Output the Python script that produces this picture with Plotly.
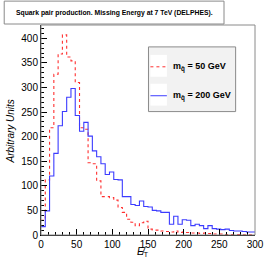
import numpy as np
import plotly.graph_objects as go

# 6 GeV bins from 0 to 300
bin_width = 6
bin_lo = np.arange(0, 300, bin_width)

m50 = [30, 112, 218, 327, 368, 407, 362, 354, 310, 218,
       215, 147, 145, 110, 78, 78, 76, 71, 56, 46,
       32, 26, 19, 25, 28, 12, 10, 10, 8, 7,
       6, 8, 5, 6, 5, 4, 4, 3, 4, 3,
       2, 2, 2, 1, 1, 1, 1, 0.5, 0.5, 0.5]
m200 = [17, 49, 120, 166, 222, 251, 280, 298, 243, 211,
        229, 201, 171, 159, 145, 123, 128, 113, 112, 78,
        78, 62, 60, 69, 58, 57, 50, 49, 46, 46,
        22, 38, 22, 31, 30, 19, 22, 19, 13, 19,
        13, 12, 11, 12, 9, 8, 8, 7, 6, 6]

title_text = "Squark pair production. Missing Energy at 7 TeV (DELPHES)."
leg1 = "<b>m<sub>q̃</sub> = 50 GeV</b>"
leg2 = "<b>m<sub>q̃</sub> = 200 GeV</b>"
x_ticks = [0, 50, 100, 150, 200, 250, 300]
y_ticks = [0, 50, 100, 150, 200, 250, 300, 350, 400]

xs = list(bin_lo) + [300]


def steps(v):
    return list(v) + [v[-1]]


fig = go.Figure()
fig.add_trace(go.Scatter(x=xs, y=steps(m50), mode="lines", line_shape="hv",
                         line=dict(color="#ff3030", width=1.1, dash="dot"),
                         showlegend=False, hoverinfo="skip"))
fig.add_trace(go.Scatter(x=xs, y=steps(m200), mode="lines", line_shape="hv",
                         line=dict(color="#3c3cff", width=1.1),
                         showlegend=False, hoverinfo="skip"))

W, H = 276, 262
L, R, T, B = 41, 262, 25, 236
pw, ph = R - L, B - T


def px(x):
    return (x - L) / pw


def py(y):
    return (B - y) / ph


shapes = []
shapes.append(dict(type="rect", xref="paper", yref="paper", x0=0, x1=1, y0=0, y1=1,
                   line=dict(color="#8a8a8a", width=1), layer="above"))
shapes.append(dict(type="rect", xref="paper", yref="paper", x0=px(3), x1=px(230),
                   y0=py(24), y1=py(1), fillcolor="white",
                   line=dict(color="#8a8a8a", width=1), layer="above"))
shapes.append(dict(type="rect", xref="paper", yref="paper", x0=px(152), x1=px(242),
                   y0=py(112), y1=py(47), fillcolor="#f2f2f2",
                   line=dict(color="#8a8a8a", width=1), layer="above"))
for cy in (66, 95):
    shapes.append(dict(type="rect", xref="paper", yref="paper", x0=px(154), x1=px(171),
                       y0=py(cy + 11), y1=py(cy - 11), fillcolor="white",
                       line=dict(width=0), layer="above"))
shapes.append(dict(type="line", xref="paper", yref="paper", x0=px(154), x1=px(171),
                   y0=py(67), y1=py(67), line=dict(color="#ff3030", width=1, dash="dot"),
                   layer="above"))
shapes.append(dict(type="line", xref="paper", yref="paper", x0=px(154), x1=px(171),
                   y0=py(96), y1=py(96), line=dict(color="#6a6aff", width=1.3),
                   layer="above"))

annotations = [
    dict(text="<b>" + title_text + "</b>", xref="paper", yref="paper",
         x=px(116.5), y=py(12.5), showarrow=False, xanchor="center", yanchor="middle",
         font=dict(family="Liberation Sans, Arial", size=6.8, color="black")),
    dict(text=leg1, xref="paper", yref="paper", x=px(175), y=py(67), showarrow=False,
         xanchor="left", yanchor="middle",
         font=dict(family="Liberation Sans, Arial", size=9, color="black")),
    dict(text=leg2, xref="paper", yref="paper", x=px(175), y=py(96), showarrow=False,
         xanchor="left", yanchor="middle",
         font=dict(family="Liberation Sans, Arial", size=9, color="black")),
    dict(text="<i>Arbitrary Units</i>", xref="paper", yref="paper", x=px(9), y=py(132),
         showarrow=False, textangle=-90, xanchor="center", yanchor="middle",
         font=dict(family="Liberation Sans, Arial", size=10, color="black")),
    dict(text="<i>E̸</i><sub>T</sub>", xref="paper", yref="paper", x=px(146), y=py(253),
         showarrow=False, xanchor="center", yanchor="middle",
         font=dict(family="Liberation Sans, Arial", size=10, color="black")),
]

fig.update_layout(
    width=W, height=H,
    margin=dict(l=L, r=W - R, t=T, b=H - B, pad=0),
    paper_bgcolor="white", plot_bgcolor="white",
    shapes=shapes, annotations=annotations,
    font=dict(family="Liberation Sans, Arial", size=10, color="black"),
    xaxis=dict(range=[0, 300], tickvals=x_ticks, ticktext=[str(v) for v in x_ticks],
               ticks="inside", ticklen=6, tickcolor="black", tickwidth=1,
               showgrid=False, zeroline=False, showline=True, linecolor="black",
               linewidth=1, tickfont=dict(size=10),
               minor=dict(dtick=10, ticks="inside", ticklen=3, tickcolor="black",
                          showgrid=False)),
    yaxis=dict(range=[0, 427], tickvals=y_ticks, ticktext=[str(v) for v in y_ticks],
               ticks="inside", ticklen=6, tickcolor="black", tickwidth=1,
               showgrid=False, zeroline=False, showline=True, linecolor="black",
               linewidth=1, tickfont=dict(size=10),
               minor=dict(dtick=10, ticks="inside", ticklen=3, tickcolor="black",
                          showgrid=False)),
)

fig.write_html("out.html", config={"displayModeBar": False},
               post_script="document.body.style.margin='0';")
